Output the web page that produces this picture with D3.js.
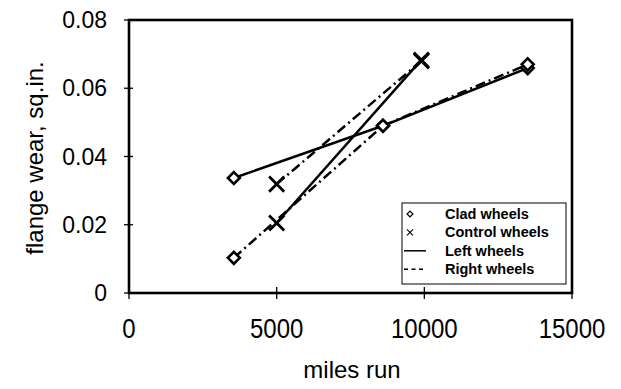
<!DOCTYPE html>
<html>
<head>
<meta charset="utf-8">
<script src="https://cdn.jsdelivr.net/npm/d3@7"></script>
<style>
  body { margin: 0; background: #fff; }
  text { font-family: "Liberation Sans", Arial, sans-serif; fill: #000; }
</style>
</head>
<body>
<script>
// data
const cladMiles = [3550, 8600, 13500];
const cladLeft = [0.0337, 0.049, 0.0659];
const cladRight = [0.0103, 0.049, 0.067];
const controlMiles = [5000, 9900];
const controlLeft = [0.0205, 0.0683];
const controlRight = [0.0319, 0.068];
const xTicks = [0, 5000, 10000, 15000];
const yTicks = [0, 0.02, 0.04, 0.06, 0.08];
const legendLabels = ["Clad wheels", "Control wheels", "Left wheels", "Right wheels"];

const width = 621, height = 389;
const svg = d3.select("body").append("svg")
  .attr("width", width)
  .attr("height", height);

const x = d3.scaleLinear().domain([0, 15000]).range([129, 572]);
const y = d3.scaleLinear().domain([0, 0.08]).range([293, 20]);

// frame
svg.append("rect")
  .attr("x", x(0)).attr("y", y(0.08))
  .attr("width", x(15000) - x(0)).attr("height", y(0) - y(0.08))
  .attr("fill", "none").attr("stroke", "#000").attr("stroke-width", 2.6);

// ticks
svg.selectAll(".ytick").data(yTicks).join("line")
  .attr("x1", x(0) - 5).attr("x2", x(0) + 4)
  .attr("y1", d => y(d)).attr("y2", d => y(d))
  .attr("stroke", "#000").attr("stroke-width", 1.3);
svg.selectAll(".xtick").data(xTicks).join("line")
  .attr("x1", d => x(d)).attr("x2", d => x(d))
  .attr("y1", y(0) - 6).attr("y2", y(0) + 6)
  .attr("stroke", "#000").attr("stroke-width", 1.3);

svg.selectAll(".ylab").data(yTicks).join("text")
  .attr("x", 107).attr("y", d => y(d) + 8)
  .attr("text-anchor", "end").style("font-size", "23px")
  .text(d => d === 0 ? "0" : d3.format(".2f")(d));
// scanned labels on the x axis are a bit taller than wide
svg.selectAll(".xlab").data(xTicks).join("text")
  .attr("transform", d => `translate(${x(d)},338) scale(1,1.15)`)
  .attr("text-anchor", "middle").style("font-size", "24px")
  .text(d => d);

svg.append("text")
  .attr("x", 352).attr("y", 378)
  .attr("text-anchor", "middle").style("font-size", "24px")
  .text("miles run");
svg.append("text")
  .attr("transform", "translate(43,158) rotate(-90)")
  .attr("text-anchor", "middle").style("font-size", "24px")
  .text("flange wear, sq.in.");

// lines
const line = d3.line().x(d => x(d[0])).y(d => y(d[1]));
const series = [
  { miles: cladMiles, vals: cladLeft, dash: null },
  { miles: cladMiles, vals: cladRight, dash: "10,4,2,4" },
  { miles: controlMiles, vals: controlLeft, dash: null },
  { miles: controlMiles, vals: controlRight, dash: "10,4,2,4" }
];
series.forEach(s => {
  svg.append("path")
    .datum(s.miles.map((m, i) => [m, s.vals[i]]))
    .attr("d", line)
    .attr("fill", "none").attr("stroke", "#000")
    .attr("stroke-width", 2.5)
    .attr("stroke-dasharray", s.dash);
});

// markers
const diamond = d3.symbol().type(d3.symbolDiamond2).size(90);
const cross = d3.symbol().type(d3.symbolTimes).size(150);
[cladLeft, cladRight].forEach(vals => {
  svg.selectAll(null).data(cladMiles.map((m, i) => [m, vals[i]])).join("path")
    .attr("d", diamond)
    .attr("transform", d => `translate(${x(d[0])},${y(d[1])})`)
    .attr("fill", "#fff").attr("stroke", "#000").attr("stroke-width", 2.6);
});
[controlLeft, controlRight].forEach(vals => {
  svg.selectAll(null).data(controlMiles.map((m, i) => [m, vals[i]])).join("path")
    .attr("d", cross)
    .attr("transform", d => `translate(${x(d[0])},${y(d[1])})`)
    .attr("fill", "none").attr("stroke", "#000").attr("stroke-width", 2.8);
});

// legend
const lg = svg.append("g").attr("transform", "translate(402,203)");
lg.append("rect").attr("width", 164).attr("height", 81)
  .attr("fill", "#fff").attr("stroke", "#000").attr("stroke-width", 1);
const rows = lg.selectAll(".row").data(legendLabels).join("g")
  .attr("transform", (d, i) => `translate(0,${16 + i * 18.4})`);
rows.append("text")
  .attr("x", 43).attr("y", 0)
  .style("font-size", "14.5px").style("font-weight", "bold")
  .text(d => d);
rows.each(function(d, i) {
  const g = d3.select(this);
  if (i === 0) {
    g.append("path").attr("d", d3.symbol().type(d3.symbolDiamond2).size(22))
      .attr("transform", "translate(8,-5)")
      .attr("fill", "none").attr("stroke", "#000").attr("stroke-width", 1.2);
  } else if (i === 1) {
    g.append("path").attr("d", d3.symbol().type(d3.symbolTimes).size(25))
      .attr("transform", "translate(8,-5)")
      .attr("fill", "none").attr("stroke", "#000").attr("stroke-width", 1.1);
  } else {
    g.append("line").attr("x1", 2).attr("x2", 24).attr("y1", -5).attr("y2", -5)
      .attr("stroke", "#000").attr("stroke-width", 1.5)
      .attr("stroke-dasharray", i === 3 ? "4,3.5" : null);
  }
});
</script>
</body>
</html>
